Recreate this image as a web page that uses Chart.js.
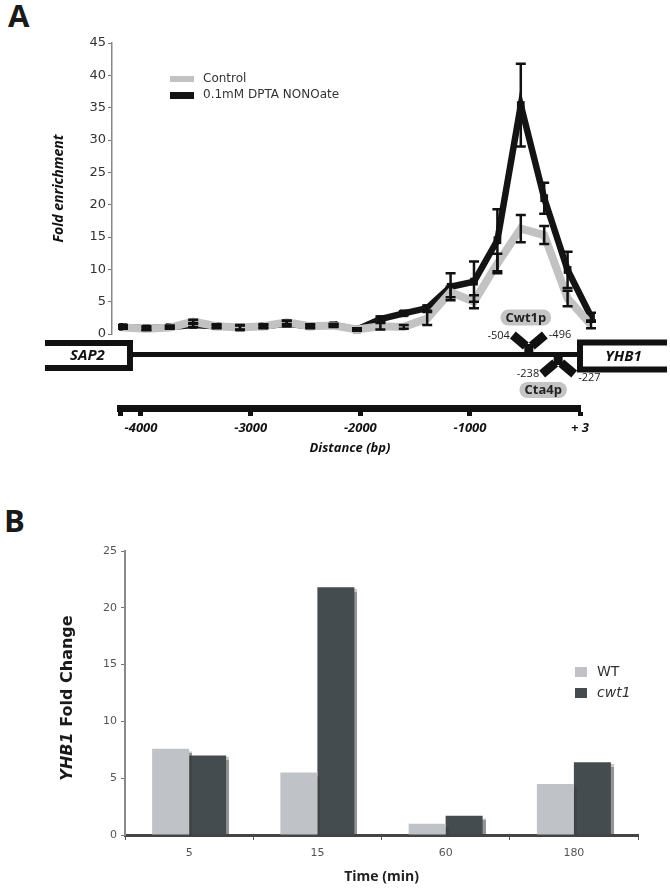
<!DOCTYPE html>
<html>
<head>
<meta charset="utf-8">
<script src="https://cdn.jsdelivr.net/npm/chart.js@4.4.1/dist/chart.umd.min.js"></script>
<style>
html, body { margin: 0; padding: 0; background: #fff; }
#page { position: relative; width: 670px; height: 889px; overflow: hidden; }
canvas { position: absolute; left: 0; }
.letter { position: absolute; font: bold 31px/31px "Open Sans", sans-serif; color: #1a1a1a; }
</style>
</head>
<body>
<div id="page">
  <div class="letter" style="left:8px;top:0px">A</div>
  <div class="letter" style="left:4px;top:505px">B</div>
  <canvas id="chartA" width="670" height="345" style="top:0"></canvas>
  <canvas id="chartDist" width="670" height="160" style="top:300px"></canvas>
  <canvas id="chartB" width="670" height="389" style="top:500px"></canvas>
</div>
<script>
// ---- panel A : ChIP across the YHB1 promoter ----
const controlVals = [1.0, 0.8, 1.0, 1.9, 1.2, 1.0, 1.2, 1.8, 1.2, 1.3, 0.7, 1.2, 1.1, 2.4, 6.5, 5.0, 10.9, 16.3, 15.3, 5.5, 1.4];
const controlErr  = [0.2, 0.2, 0.2, 0.3, 0.2, 0.3, 0.2, 0.3, 0.2, 0.2, 0.2, 0.5, 0.3, 1.0, 0.8, 1.0, 1.5, 2.1, 1.4, 1.2, 0.5];
const nonoVals    = [1.1, 0.9, 1.1, 1.4, 1.2, 1.0, 1.2, 1.6, 1.2, 1.4, 0.7, 2.3, 3.2, 4.0, 7.3, 8.1, 14.5, 35.4, 21.0, 9.9, 2.7];
const nonoErr     = [0.3, 0.3, 0.2, 0.3, 0.3, 0.4, 0.3, 0.4, 0.3, 0.2, 0.2, 0.4, 0.3, 0.4, 2.1, 3.1, 4.8, 6.4, 2.4, 2.8, 0.6];
const seriesNamesA = ['Control', '0.1mM DPTA NONOate'];

// distance axis (bp) and promoter map
const distTicks = [-4191, -4000, -3000, -2000, -1000, 3];
const distTickLabels = ['', '-4000', '-3000', '-2000', '-1000', '+ 3'];
const sap2Span = [-4875, -4100];
const yhb1Span = [3, 796];
const siteNames = ['Cwt1p', 'Cta4p'];
const siteStarts = [-504, -238];
const siteEnds = [-496, -227];

// ---- panel B : YHB1 expression ----
const timePoints = ['5', '15', '60', '180'];
const wtVals = [7.6, 5.5, 1.0, 4.5];
const cwt1Vals = [7.0, 21.8, 1.7, 6.4];
const seriesNamesB = ['WT', 'cwt1'];
const seriesFontStyleB = ['normal', 'italic'];

const errArrays = [controlErr, nonoErr];

const errorBars = {
  id: 'errorBars',
  afterDatasetsDraw(chart) {
    const { ctx } = chart;
    const x = chart.scales.x, y = chart.scales.y;
    ctx.save();
    ctx.strokeStyle = '#111';
    ctx.lineWidth = 2.5;
    chart.data.datasets.forEach((ds, d) => {
      errArrays[d].forEach((e, i) => {
        const px = x.getPixelForValue(i);
        const top = y.getPixelForValue(ds.data[i].y + e);
        const bot = y.getPixelForValue(ds.data[i].y - e);
        ctx.beginPath();
        ctx.moveTo(px, top); ctx.lineTo(px, bot);
        ctx.moveTo(px - 5, top); ctx.lineTo(px + 5, top);
        ctx.moveTo(px - 5, bot); ctx.lineTo(px + 5, bot);
        ctx.stroke();
      });
    });
    ctx.restore();
  }
};

const legendA = {
  id: 'legendA',
  afterDraw(chart) {
    const ctx = chart.ctx;
    ctx.save();
    ctx.font = '12px "DejaVu Sans"';
    ctx.textBaseline = 'middle';
    chart.data.datasets.forEach((ds, i) => {
      const cy = 79 + i * 16;
      ctx.fillStyle = ds.borderColor;
      ctx.fillRect(170, cy - 3, 24, i ? 7 : 6);
      ctx.fillStyle = '#333';
      ctx.fillText(ds.label, 203, cy);
    });
    ctx.restore();
  }
};

new Chart(document.getElementById('chartA'), {
  type: 'line',
  data: {
    datasets: [
      {
        label: seriesNamesA[0],
        data: controlVals.map((v, i) => ({ x: i, y: v })),
        borderColor: '#c2c2c2',
        borderWidth: 8,
        pointRadius: 0,
        tension: 0,
        clip: false
      },
      {
        label: seriesNamesA[1],
        data: nonoVals.map((v, i) => ({ x: i, y: v })),
        borderColor: '#141414',
        backgroundColor: '#141414',
        borderWidth: 6.5,
        pointStyle: 'rect',
        pointRadius: 5.5,
        pointBorderWidth: 0,
        tension: 0,
        clip: false
      }
    ]
  },
  options: {
    responsive: false,
    animation: false,
    layout: { padding: { left: 47, right: 70, top: 43, bottom: 11 } },
    plugins: { legend: { display: false }, tooltip: { enabled: false } },
    scales: {
      x: { type: 'linear', min: -0.47, max: 20.385, display: false },
      y: {
        min: 0, max: 45,
        ticks: { stepSize: 5, color: '#333', font: { family: 'DejaVu Sans', size: 13 }, padding: 2 },
        grid: { drawOnChartArea: false, tickLength: 4, color: '#777' },
        border: { color: '#888', width: 1.5 },
        title: {
          display: true, text: 'Fold enrichment', color: '#111',
          font: { family: 'Open Sans', size: 14, weight: 'bold', style: 'italic' }
        },
        afterFit(s) { s.width = 65; }
      }
    }
  },
  plugins: [errorBars, legendA]
});

function seg(ctx, x1, y1, x2, y2) {
  ctx.beginPath(); ctx.moveTo(x1, y1); ctx.lineTo(x2, y2); ctx.stroke();
}

function pill(ctx, text, cx, cy) {
  ctx.font = 'bold 13px "Open Sans"';
  const w = ctx.measureText(text).width + 10, h = 16;
  ctx.fillStyle = '#c4c4c4';
  ctx.beginPath();
  ctx.roundRect(cx - w / 2, cy - h / 2, w, h, 8);
  ctx.fill();
  ctx.fillStyle = '#222';
  ctx.textAlign = 'center';
  ctx.textBaseline = 'middle';
  ctx.fillText(text, cx, cy + 0.5);
}

const geneDiagram = {
  id: 'geneDiagram',
  afterDraw(chart) {
    const ctx = chart.ctx, x = chart.scales.x;
    const lineY = 54.5;
    ctx.save();
    ctx.strokeStyle = '#111';
    ctx.fillStyle = '#111';
    ctx.lineJoin = 'miter';

    const s0 = x.getPixelForValue(sap2Span[0]), s1 = x.getPixelForValue(sap2Span[1]);
    const g0 = x.getPixelForValue(yhb1Span[0]), g1 = x.getPixelForValue(yhb1Span[1]);

    // promoter
    ctx.lineWidth = 5;
    seg(ctx, s1, lineY, g0, lineY);

    // flanking ORFs
    ctx.lineWidth = 6;
    ctx.beginPath();
    ctx.moveTo(s0, 43); ctx.lineTo(s1, 43); ctx.lineTo(s1, 68); ctx.lineTo(s0, 68);
    ctx.stroke();
    ctx.beginPath();
    ctx.moveTo(g1, 42.5); ctx.lineTo(g0, 42.5); ctx.lineTo(g0, 69.5); ctx.lineTo(g1, 69.5);
    ctx.stroke();

    ctx.font = 'italic bold 15px "Open Sans"';
    ctx.textAlign = 'center';
    ctx.textBaseline = 'middle';
    ctx.fillText('SAP2', (s0 + s1) / 2, 55.5);
    ctx.fillText('YHB1', (g0 + g1) / 2, 56.5);

    // binding sites
    siteNames.forEach((name, i) => {
      const cx = x.getPixelForValue((siteStarts[i] + siteEnds[i]) / 2) + 4;
      const up = i === 0;
      const jy = up ? 46 : 63, ty = up ? 35 : 74;
      ctx.strokeStyle = '#111';
      ctx.fillStyle = '#111';
      ctx.lineWidth = 9;
      seg(ctx, cx - 3, jy, cx - 16, ty);
      seg(ctx, cx + 3, jy, cx + 16, ty);
      if (up) ctx.fillRect(cx - 4.5, 44, 9, lineY - 44);
      else ctx.fillRect(cx - 4.5, lineY, 9, 65 - lineY);

      ctx.font = '11px "Open Sans"';
      ctx.fillStyle = '#222';
      ctx.textBaseline = 'middle';
      ctx.textAlign = 'right';
      ctx.fillText(String(siteStarts[i]), cx - 19, up ? 36 : 74);
      ctx.textAlign = 'left';
      ctx.fillText(String(siteEnds[i]), cx + 20, up ? 35 : 78);

      pill(ctx, name, up ? cx - 3 : cx - 15, up ? 17.5 : 90);
    });
    ctx.restore();
  }
};

new Chart(document.getElementById('chartDist'), {
  type: 'line',
  data: { datasets: [{ data: [] }] },
  options: {
    responsive: false,
    animation: false,
    layout: { padding: { left: 120, right: 90, top: 0, bottom: 0 } },
    plugins: { legend: { display: false }, tooltip: { enabled: false } },
    scales: {
      x: {
        type: 'linear', position: 'bottom', min: -4191, max: 3,
        afterBuildTicks(s) { s.ticks = distTicks.map(v => ({ value: v })); },
        ticks: {
          autoSkip: false, maxRotation: 0, padding: 4, color: '#111',
          font: { family: 'Open Sans', size: 13, weight: 'bold', style: 'italic' },
          callback: (v, i) => distTickLabels[i]
        },
        grid: { drawOnChartArea: false, tickLength: 8, tickWidth: 5, color: '#111' },
        border: { color: '#111', width: 7 },
        title: {
          display: true, text: 'Distance (bp)', color: '#111',
          font: { family: 'Open Sans', size: 13, weight: 'bold', style: 'italic' }
        },
        afterFit(s) { s.height = 52; }
      },
      y: { display: false }
    }
  },
  plugins: [geneDiagram]
});

// panel B helpers
const barShadow = {
  id: 'barShadow',
  beforeDatasetsDraw(chart) {
    const ctx = chart.ctx;
    ctx.save();
    ctx.shadowColor = 'rgba(60,60,60,0.55)';
    ctx.shadowOffsetX = 3;
    ctx.shadowOffsetY = 2;
    ctx.shadowBlur = 1;
  },
  afterDatasetsDraw(chart) { chart.ctx.restore(); }
};

const legendB = {
  id: 'legendB',
  afterDraw(chart) {
    const ctx = chart.ctx;
    ctx.save();
    ctx.textBaseline = 'middle';
    chart.data.datasets.forEach((ds, i) => {
      const cy = 172 + i * 21;
      ctx.fillStyle = ds.backgroundColor;
      ctx.fillRect(575, cy - 5, 12, 10);
      ctx.fillStyle = '#333';
      ctx.font = seriesFontStyleB[i] + ' 14px "DejaVu Sans"';
      ctx.fillText(ds.label, 597, cy);
    });
    ctx.restore();
  }
};

const yTitleB = {
  id: 'yTitleB',
  afterDraw(chart) {
    const ctx = chart.ctx;
    const a = 'YHB1 ', b = 'Fold Change';
    const fa = 'italic bold 16px "DejaVu Sans"', fb = 'bold 16px "DejaVu Sans"';
    ctx.save();
    ctx.font = fa; const wa = ctx.measureText(a).width;
    ctx.font = fb; const wb = ctx.measureText(b).width;
    ctx.translate(68, 198);
    ctx.rotate(-Math.PI / 2);
    ctx.fillStyle = '#1a1a1a';
    ctx.textBaseline = 'middle';
    ctx.textAlign = 'left';
    ctx.font = fa; ctx.fillText(a, -(wa + wb) / 2, 0);
    ctx.font = fb; ctx.fillText(b, -(wa + wb) / 2 + wa, 0);
    ctx.restore();
  }
};

new Chart(document.getElementById('chartB'), {
  type: 'bar',
  data: {
    labels: timePoints,
    datasets: [
      { label: seriesNamesB[0], data: wtVals, backgroundColor: '#bfc3c8' },
      { label: seriesNamesB[1], data: cwt1Vals, backgroundColor: '#454c4f' }
    ]
  },
  options: {
    responsive: false,
    animation: false,
    layout: { padding: { left: 85, right: 32, top: 51, bottom: 0 } },
    datasets: { bar: { categoryPercentage: 0.577, barPercentage: 1 } },
    plugins: { legend: { display: false }, tooltip: { enabled: false } },
    scales: {
      x: {
        ticks: { color: '#555', font: { family: 'DejaVu Sans', size: 11 }, padding: 7 },
        grid: { drawOnChartArea: false, tickLength: 5, color: '#555', offset: true },
        border: { color: '#444', width: 3 },
        title: {
          display: true, text: 'Time (min)', color: '#222',
          font: { family: 'Open Sans', size: 14, weight: 'bold' }
        },
        afterFit(s) { s.height = 54; }
      },
      y: {
        min: 0, max: 25,
        ticks: { stepSize: 5, color: '#555', font: { family: 'DejaVu Sans', size: 11 }, padding: 4 },
        grid: { drawOnChartArea: false, tickLength: 4, color: '#777' },
        border: { color: '#8a8a8a', width: 2 },
        afterFit(s) { s.width = 40; }
      }
    }
  },
  plugins: [barShadow, legendB, yTitleB]
});
</script>
</body>
</html>
